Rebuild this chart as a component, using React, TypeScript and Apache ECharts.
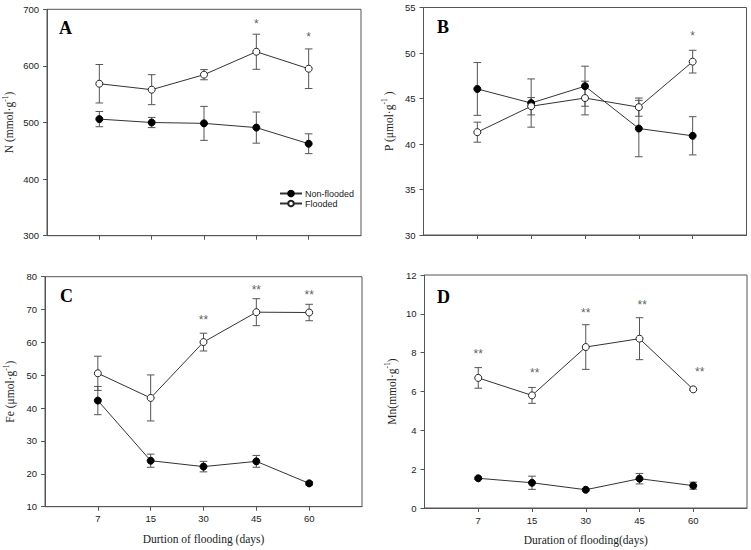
import React, { useEffect, useRef } from 'react';
import * as echarts from 'echarts';

// ---------- data ----------
const days = ['7', '15', '30', '45', '60'];
const xPos = [1, 2, 3, 4, 5];

// Panel A: N (mmol·g-1)
const nNon = [506, 500, 498.5, 491, 462.5];
const nNonErr = [13.5, 9, 30, 27.5, 17.5];
const nFl = [568.5, 558, 584.5, 625, 595];
const nFlErr = [34, 26.5, 9, 31, 35];
const nStarX = [4, 5];
const nStarY = [679, 656];
const nStarText = ['*', '*'];

// Panel B: P (μmol·g-1)
const pNon = [46.05, 44.5, 46.35, 41.7, 40.9];
const pNonErr = [2.9, 2.65, 2.2, 3.1, 2.1];
const pFl = [41.3, 44.15, 45.05, 44.05, 49.05];
const pFlErr = [1.1, 0.95, 1.85, 1.0, 1.25];
const pStarX = [5];
const pStarY = [52.15];
const pStarText = ['*'];

// Panel C: Fe (μmol·g-1)
const feNon = [42.3, 24.0, 22.2, 23.8, 17.1];
const feNonErr = [4.3, 2.0, 1.6, 1.8, 0.5];
const feFl = [50.6, 43.1, 60.1, 69.2, 69.1];
const feFlErr = [5.2, 7.0, 2.7, 4.1, 2.5];
const feStarX = [3, 4, 5];
const feStarY = [67.6, 76.75, 75.4];
const feStarText = ['**', '**', '**'];

// Panel D: Mn (mmol·g-1)
const mnNon = [1.53, 1.3, 0.94, 1.51, 1.15];
const mnNonErr = [0.06, 0.34, 0.06, 0.27, 0.18];
const mnFl = [6.7, 5.8, 8.29, 8.72, 6.11];
const mnFlErr = [0.53, 0.41, 1.15, 1.08, 0.05];
const mnStarX = [1, 2.05, 3, 4.05, 5.12];
const mnStarY = [8.09, 7.1, 10.2, 10.6, 7.16];
const mnStarText = ['**', '**', '**', '**', '**'];

// y axis ranges
const yMin = [300, 30, 10, 0];
const yMax = [700, 55, 80, 12];
const yStep = [100, 5, 10, 2];

const yNames = [
  'N (mmol·g{sup|-1})',
  'P (μmol·g{sup|-1} )',
  'Fe (μmol·g{sup|-1})',
  'Mn(mmol·g{sup|-1})',
];
const xNames = ['', '', 'Durtion of flooding (days)', 'Duration of flooding(days)'];
const panelLetters = ['A', 'B', 'C', 'D'];

// ---------- layout ----------
const grids = [
  { left: 47, top: 9.3, width: 314, height: 226.4 },
  { left: 423.5, top: 7.5, width: 323, height: 227.5 },
  { left: 45, top: 276.7, width: 317, height: 230 },
  { left: 424.5, top: 275, width: 322.5, height: 233 },
];
const yNameGaps = [30, 27, 27, 25];
const letterPos = [
  [59, 29],
  [437, 28],
  [60, 297],
  [437, 298],
];

const SANS = 'Liberation Sans, Arial, sans-serif';
const SERIF = 'Liberation Serif, Times New Roman, serif';
const AXIS_COLOR = '#555';
const LINE_COLOR = '#333';
const ERR_COLOR = '#555';

function errData(mean: number[], err: number[]) {
  return xPos.map((x, i) => [x, mean[i] - err[i], mean[i] + err[i]]);
}
function ptData(mean: number[]) {
  return xPos.map((x, i) => [x, mean[i]]);
}
function starData(xs: number[], ys: number[], t: string[]) {
  return xs.map((x, i) => [x, ys[i], t[i]]);
}

const panelsData = [
  { non: nNon, nonErr: nNonErr, fl: nFl, flErr: nFlErr, stars: starData(nStarX, nStarY, nStarText) },
  { non: pNon, nonErr: pNonErr, fl: pFl, flErr: pFlErr, stars: starData(pStarX, pStarY, pStarText) },
  { non: feNon, nonErr: feNonErr, fl: feFl, flErr: feFlErr, stars: starData(feStarX, feStarY, feStarText) },
  { non: mnNon, nonErr: mnNonErr, fl: mnFl, flErr: mnFlErr, stars: starData(mnStarX, mnStarY, mnStarText) },
];

function errorRender(params: any, api: any) {
  const x = api.value(0);
  const lo = api.coord([x, api.value(1)]);
  const hi = api.coord([x, api.value(2)]);
  const hw = 3.8;
  const style = { stroke: ERR_COLOR, lineWidth: 1, fill: 'none' };
  return {
    type: 'group',
    children: [
      { type: 'line', shape: { x1: lo[0], y1: lo[1], x2: hi[0], y2: hi[1] }, style },
      { type: 'line', shape: { x1: hi[0] - hw, y1: hi[1], x2: hi[0] + hw, y2: hi[1] }, style },
      { type: 'line', shape: { x1: lo[0] - hw, y1: lo[1], x2: lo[0] + hw, y2: lo[1] }, style },
    ],
  };
}

function buildOption() {
  const xAxis: any[] = [];
  const yAxis: any[] = [];
  const series: any[] = [];
  grids.forEach((g, i) => {
    xAxis.push({
      type: 'value',
      gridIndex: i,
      min: 0,
      max: 6,
      interval: 1,
      splitLine: { show: false },
      axisLine: { show: true, onZero: false, lineStyle: { color: AXIS_COLOR, width: 1 } },
      axisTick: { show: true, length: 4, customValues: xPos, lineStyle: { color: AXIS_COLOR } },
      axisLabel: {
        show: i >= 2,
        customValues: xPos,
        margin: 7,
        fontFamily: SANS,
        fontSize: 9.5,
        color: '#222',
        formatter: (v: number) => days[Math.round(v) - 1] ?? '',
      },
      name: xNames[i],
      nameLocation: 'middle',
      nameGap: 26,
      nameTextStyle: { fontFamily: SERIF, fontSize: 11.5, color: '#222' },
    });
    yAxis.push({
      type: 'value',
      gridIndex: i,
      min: yMin[i],
      max: yMax[i],
      interval: yStep[i],
      splitLine: { show: false },
      axisLine: { show: true, onZero: false, lineStyle: { color: AXIS_COLOR, width: 1 } },
      axisTick: { show: true, length: 4, lineStyle: { color: AXIS_COLOR } },
      axisLabel: { margin: 8, fontFamily: SANS, fontSize: 9.5, color: '#222' },
      name: yNames[i],
      nameLocation: 'middle',
      nameGap: yNameGaps[i],
      nameTextStyle: {
        fontFamily: SERIF,
        fontSize: 11.5,
        color: '#222',
        lineHeight: 16,
        rich: {
          sup: { fontFamily: SERIF, fontSize: 7.5, color: '#222', verticalAlign: 'top', lineHeight: 16, padding: [0, 0, 6, 0] },
        },
      },
    });
    const d = panelsData[i];
    series.push({
      type: 'custom',
      name: 'errNon' + i,
      xAxisIndex: i,
      yAxisIndex: i,
      renderItem: errorRender,
      encode: { x: 0, y: [1, 2] },
      data: errData(d.non, d.nonErr),
      z: 1,
      silent: true,
    });
    series.push({
      type: 'custom',
      name: 'errFl' + i,
      xAxisIndex: i,
      yAxisIndex: i,
      renderItem: errorRender,
      encode: { x: 0, y: [1, 2] },
      data: errData(d.fl, d.flErr),
      z: 1,
      silent: true,
    });
    series.push({
      type: 'line',
      name: 'Non-flooded',
      xAxisIndex: i,
      yAxisIndex: i,
      data: ptData(d.non),
      symbol: 'circle',
      symbolSize: 7,
      lineStyle: { color: LINE_COLOR, width: 1 },
      itemStyle: { color: '#000', borderColor: '#000', borderWidth: 1 },
      z: 3,
    });
    series.push({
      type: 'line',
      name: 'Flooded',
      xAxisIndex: i,
      yAxisIndex: i,
      data: ptData(d.fl),
      symbol: 'circle',
      symbolSize: 7,
      lineStyle: { color: LINE_COLOR, width: 1 },
      itemStyle: { color: '#fff', borderColor: '#222', borderWidth: 1 },
      z: 3,
    });
    series.push({
      type: 'scatter',
      name: 'stars' + i,
      xAxisIndex: i,
      yAxisIndex: i,
      data: d.stars,
      symbolSize: 0,
      itemStyle: { color: '#333' },
      label: {
        show: true,
        position: 'inside',
        formatter: (p: any) => p.data[2],
        fontFamily: SANS,
        fontSize: 12,
        color: '#333',
        textBorderWidth: 0,
        textBorderColor: 'transparent',
        offset: [0, 3],
      },
      z: 4,
    });
  });

  return {
    animation: false,
    backgroundColor: '#fff',
    grid: grids.map((g) => ({
      ...g,
      show: true,
      borderColor: AXIS_COLOR,
      borderWidth: 1,
      backgroundColor: 'transparent',
      containLabel: false,
    })),
    xAxis,
    yAxis,
    legend: {
      data: ['Non-flooded', 'Flooded'],
      orient: 'vertical',
      left: 274,
      top: 184,
      itemWidth: 22,
      itemHeight: 7,
      itemGap: 1,
      selectedMode: false,
      textStyle: { fontFamily: SANS, fontSize: 9, color: '#222', padding: [0, 0, 0, -2] },
    },
    graphic: panelLetters.map((t, i) => ({
      type: 'text',
      left: letterPos[i][0],
      top: letterPos[i][1] - 10,
      style: { text: t, fontFamily: SERIF, fontSize: 18, fontWeight: 'bold', fill: '#000' },
    })),
    series,
  };
}

export default function App() {
  const ref = useRef<HTMLDivElement>(null);
  useEffect(() => {
    if (!ref.current) return;
    const chart = echarts.init(ref.current, null, { renderer: 'svg' });
    chart.setOption(buildOption() as any);
    return () => chart.dispose();
  }, []);
  return (
    <div
      ref={ref}
      style={{ position: 'fixed', left: 0, top: 0, width: 751, height: 550, background: '#fff' }}
    />
  );
}
